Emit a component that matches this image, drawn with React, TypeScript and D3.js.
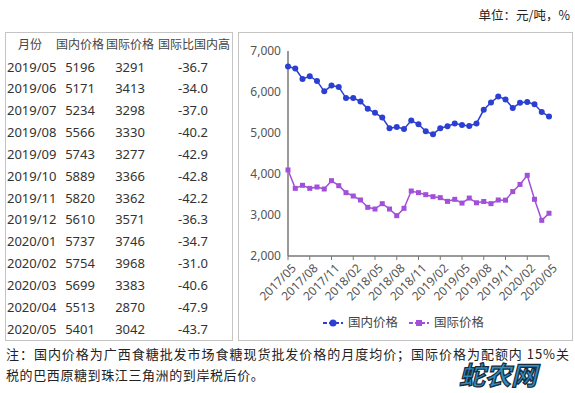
import React from "react";
import * as d3 from "d3";

// monthly labels for the chart, 2017/05 .. 2020/05
const months: string[] = d3.range(37).map((i) => {
  const m = (4 + i) % 12 + 1;
  const y = 2017 + Math.floor((4 + i) / 12);
  return `${y}/${String(m).padStart(2, "0")}`;
});

const domestic = [6623, 6574, 6320, 6385, 6270, 6016, 6156, 6123, 5852, 5852, 5770, 5590, 5492, 5377, 5115, 5148, 5098, 5303, 5213, 5041, 4967, 5115, 5164, 5230,
  5196, 5171, 5234, 5566, 5743, 5889, 5820, 5610, 5737, 5754, 5699, 5513, 5401];
const intl = [4098, 3650, 3724, 3650, 3683, 3634, 3837, 3715, 3545, 3463, 3366, 3187, 3146, 3276, 3146, 2984, 3163, 3585, 3545, 3496, 3447, 3423, 3333, 3382,
  3291, 3413, 3298, 3330, 3277, 3366, 3362, 3571, 3746, 3968, 3383, 2870, 3042];

const tableHeader = ["月份", "国内价格", "国际价格", "国际比国内高"];
const tableMonths = ["2019/05", "2019/06", "2019/07", "2019/08", "2019/09", "2019/10", "2019/11", "2019/12", "2020/01", "2020/02", "2020/03", "2020/04", "2020/05"];
const tableDomestic = [5196, 5171, 5234, 5566, 5743, 5889, 5820, 5610, 5737, 5754, 5699, 5513, 5401];
const tableIntl = [3291, 3413, 3298, 3330, 3277, 3366, 3362, 3571, 3746, 3968, 3383, 2870, 3042];
const tableDiff = ["-36.7", "-34.0", "-37.0", "-40.2", "-42.9", "-42.8", "-42.2", "-36.3", "-34.7", "-31.0", "-40.6", "-47.9", "-43.7"];

const yTicks = [2000, 3000, 4000, 5000, 6000, 7000];
const seriesNames = ["国内价格", "国际价格"];

const BLUE = "#2b3fd2";
const PURPLE = "#a24fd9";
const sans = "'Noto Sans', 'Noto Sans CJK SC', sans-serif";
const cjk = "'Noto Sans CJK SC', sans-serif";

export default function App() {
  const x = d3.scaleLinear().domain([0, 36]).range([288, 549]);
  const y = d3.scaleLinear().domain([2000, 7000]).range([256, 51]);
  const line = d3.line<number>().x((_, i) => x(i)).y((d) => y(d));

  const rowY = d3.scaleLinear().domain([0, 12]).range([67, 329]);
  const colX = [30, 80, 130, 194];

  return (
    <svg width={575} height={393} style={{ position: "absolute", left: 0, top: 0, background: "#fff" }}>
      <text x={570} y={20} textAnchor="end" fontSize={12.5} fontFamily={cjk} fill="#222">单位：元/吨，%</text>

      {/* table */}
      <rect x={5.5} y={32.5} width={227} height={308} fill="none" stroke="#c4c4c4" />
      {tableHeader.map((h, i) => (
        <text key={h} x={colX[i]} y={45} dy="0.35em" textAnchor="middle" fontSize={12} fontFamily={cjk} fill="#444">{h}</text>
      ))}
      {tableMonths.map((m, i) => (
        <g key={m} fontSize={13} fontFamily={sans} fill="#333">
          <text x={7} y={rowY(i)} dy="0.35em">{m}</text>
          <text x={colX[1]} y={rowY(i)} dy="0.35em" textAnchor="middle">{tableDomestic[i]}</text>
          <text x={colX[2]} y={rowY(i)} dy="0.35em" textAnchor="middle">{tableIntl[i]}</text>
          <text x={colX[3] - 1} y={rowY(i)} dy="0.35em" textAnchor="middle">{tableDiff[i]}</text>
        </g>
      ))}

      {/* chart */}
      <rect x={238.5} y={32.5} width={334} height={308} fill="none" stroke="#c4c4c4" />
      {yTicks.map((t) => (
        <text key={t} x={281} y={y(t)} dy="0.35em" textAnchor="end" fontSize={12} fontFamily={sans} fill="#555">{d3.format(",")(t)}</text>
      ))}
      <line x1={x(0)} x2={x(0)} y1={y(7000)} y2={y(2000)} stroke="#777" strokeWidth={1.5} />
      <line x1={x(0)} x2={x(36)} y1={y(2000)} y2={y(2000)} stroke="#777" strokeWidth={1.5} />
      {months.map((m, i) => i % 3 === 0 ? (
        <g key={m}>
          <line x1={x(i)} x2={x(i)} y1={y(2000)} y2={y(2000) + 4} stroke="#777" />
          <text transform={`translate(${x(i) + 6},${y(2000) + 10}) rotate(-45)`} textAnchor="end" dy="0.35em" fontSize={12} fontFamily={sans} fill="#555">{m}</text>
        </g>
      ) : null)}

      <path d={line(domestic) || ""} fill="none" stroke={BLUE} strokeWidth={1.5} />
      {domestic.map((d, i) => <circle key={i} cx={x(i)} cy={y(d)} r={3} fill={BLUE} />)}
      <path d={line(intl) || ""} fill="none" stroke={PURPLE} strokeWidth={1.5} />
      {intl.map((d, i) => <rect key={i} x={x(i) - 2.5} y={y(d) - 2.5} width={5} height={5} fill={PURPLE} />)}

      {/* legend */}
      <g fontSize={12.5} fontFamily={cjk} fill="#444">
        <line x1={323} x2={343} y1={323} y2={323} stroke={BLUE} strokeWidth={2} strokeDasharray="4,2" />
        <circle cx={333} cy={323} r={3.5} fill={BLUE} />
        <text x={348} y={323} dy="0.35em">{seriesNames[0]}</text>
        <line x1={409} x2={429} y1={323} y2={323} stroke={PURPLE} strokeWidth={2} strokeDasharray="4,2" />
        <rect x={416} y={320} width={6} height={6} fill={PURPLE} />
        <text x={434} y={323} dy="0.35em">{seriesNames[1]}</text>
      </g>

      {/* note */}
      <text x={6} y={354} dy="0.35em" fontSize={13} fontFamily={cjk} fill="#222" textLength={563} lengthAdjust="spacing">注：国内价格为广西食糖批发市场食糖现货批发价格的月度均价；国际价格为配额内 15%关</text>
      <text x={6} y={375} dy="0.35em" fontSize={13} fontFamily={cjk} fill="#222" letterSpacing={0.6}>税的巴西原糖到珠江三角洲的到岸税后价。</text>

      {/* watermark */}
      <text x={498} y={376} dy="0.35em" textAnchor="middle" fontSize={26} fontWeight="bold" fontStyle="italic" fontFamily={cjk} fill="#2a8fc4" stroke="#1a2a3a" strokeWidth={1.2}>蛇农网</text>
    </svg>
  );
}
